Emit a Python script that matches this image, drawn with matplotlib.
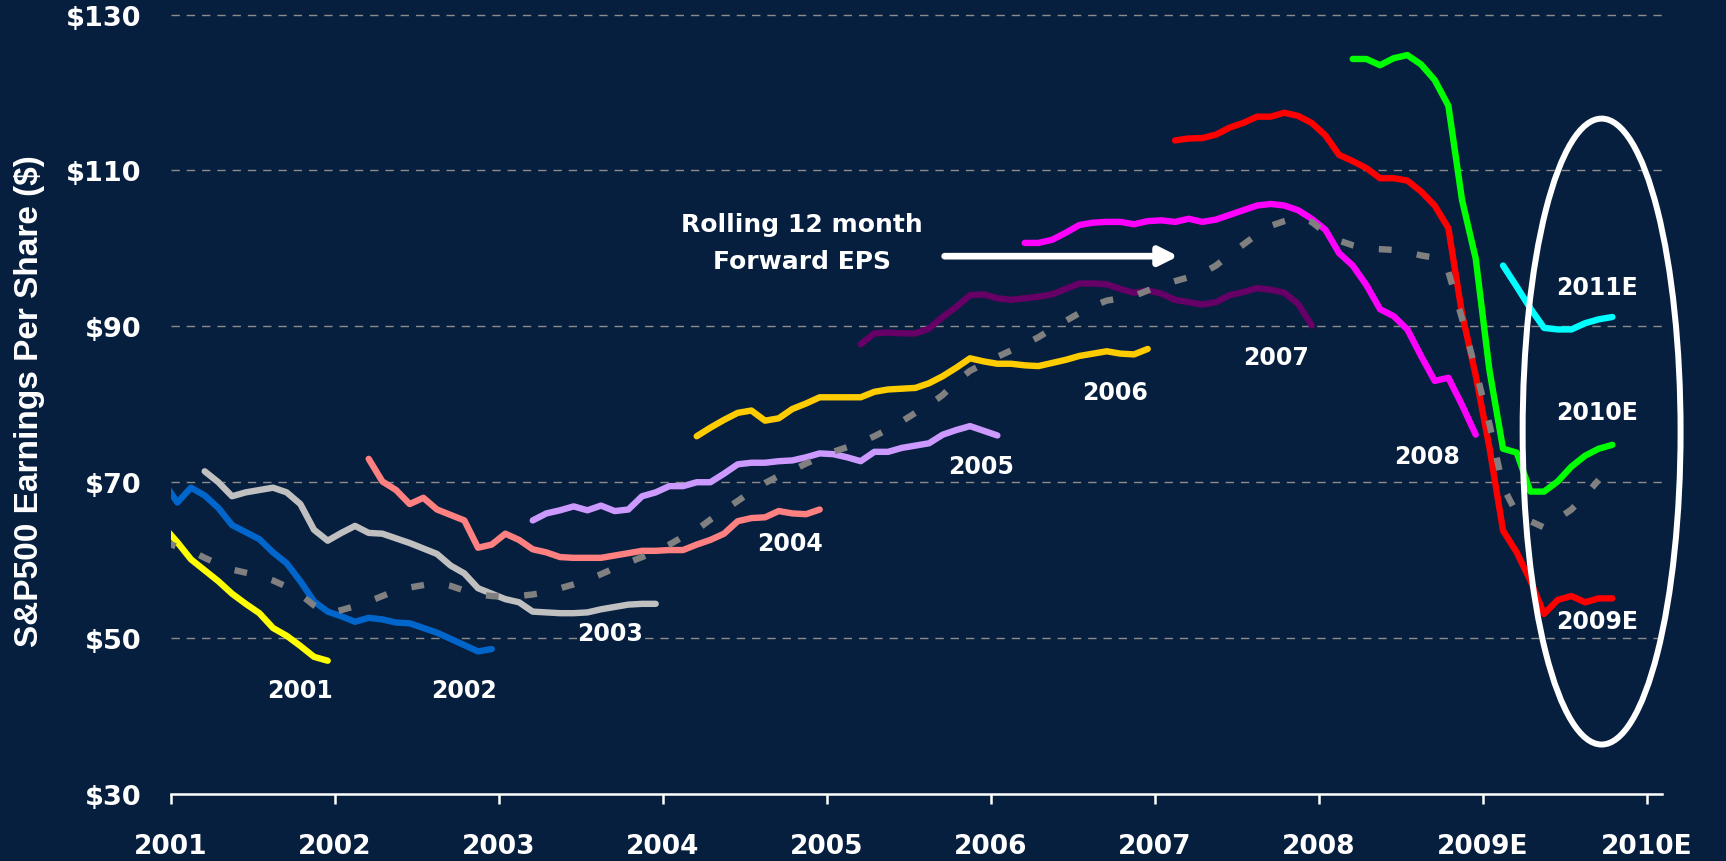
import numpy as np
import matplotlib
matplotlib.use("Agg")
import matplotlib.pyplot as plt
from matplotlib.patches import Ellipse

# monthly consensus EPS estimates, month index counted from Jan 2001 (0 = Jan 2001)
eps_2001_start = -1
eps_2001 = [64.3, 62.3, 60.1, 58.7, 57.3, 55.7, 54.4, 53.2, 51.3, 50.3, 49.0, 47.6, 47.1]

eps_2002_start = -1
eps_2002 = [70.0, 67.4, 69.3, 68.3, 66.7, 64.5, 63.6, 62.7, 61.0, 59.6, 57.3, 54.7, 53.4,
            52.8, 52.1, 52.6, 52.4, 52.0, 51.9, 51.3, 50.7, 49.9, 49.1, 48.3, 48.6]

eps_2003_start = 2
eps_2003 = [71.4, 70.0, 68.2, 68.7, 69.0, 69.3, 68.7, 67.2, 63.9, 62.5,
            63.5, 64.4, 63.5, 63.4, 62.8, 62.2, 61.5, 60.8, 59.3, 58.3, 56.4, 55.7,
            55.0, 54.6, 53.4, 53.3, 53.2, 53.2, 53.3, 53.7, 54.0, 54.3, 54.4, 54.4]

eps_2004_start = 14
eps_2004 = [73.0, 70.1, 69.0, 67.2, 68.0, 66.5, 65.8, 65.1, 61.6, 62.0,
            63.4, 62.6, 61.4, 61.0, 60.4, 60.3, 60.3, 60.3, 60.6, 60.9, 61.2, 61.2,
            61.3, 61.3, 62.0, 62.6, 63.4, 65.0, 65.4, 65.5, 66.3, 66.0, 65.9, 66.5]

eps_2005_start = 26
eps_2005 = [65.1, 66.0, 66.4, 66.9, 66.4, 67.0, 66.3, 66.5, 68.2, 68.7,
            69.5, 69.5, 70.0, 70.0, 71.1, 72.3, 72.5, 72.5, 72.7, 72.8, 73.2, 73.7,
            73.6, 73.2, 72.7, 73.9, 73.9, 74.4, 74.7, 75.0, 76.1, 76.7, 77.2, 76.6,
            76.0]

eps_2006_start = 38
eps_2006 = [75.9, 77.0, 78.0, 78.9, 79.2, 77.9, 78.2, 79.4, 80.1, 80.9,
            80.9, 80.9, 80.9, 81.6, 81.9, 82.0, 82.1, 82.7, 83.6, 84.7, 85.9, 85.5,
            85.2, 85.2, 85.0, 84.9, 85.3, 85.7, 86.2, 86.5, 86.8, 86.5, 86.4, 87.1]

eps_2007_start = 50
eps_2007 = [87.7, 89.1, 89.2, 89.1, 89.1, 89.7, 91.2, 92.5, 94.0, 94.1,
            93.6, 93.4, 93.6, 93.8, 94.1, 94.8, 95.5, 95.5, 95.4, 94.8, 94.3, 94.6,
            94.2, 93.4, 93.1, 92.8, 93.1, 94.0, 94.4, 94.9, 94.7, 94.3, 92.9, 90.1]

eps_2008_start = 62
eps_2008 = [100.7, 100.7, 101.1, 102.0, 103.0, 103.3, 103.4, 103.4, 103.1, 103.5,
            103.6, 103.4, 103.8, 103.4, 103.7, 104.3, 104.9, 105.5, 105.7, 105.5, 104.9, 103.8,
            102.4, 99.4, 97.8, 95.3, 92.2, 91.3, 89.6, 86.2, 83.0, 83.4, 79.9, 76.1]

eps_2009_start = 73
eps_2009 = [113.85, 114.1, 114.15, 114.6, 115.5, 116.1, 116.9, 116.9, 117.4, 117.0, 116.1,
            114.5, 112.0, 111.2, 110.3, 109.0, 109.0, 108.7, 107.3, 105.5, 102.6, 91.6, 83.7,
            74.5, 63.8, 61.0, 57.4, 53.1, 54.9, 55.4, 54.6, 55.1, 55.1]

eps_2010_start = 86
eps_2010 = [124.3, 124.3, 123.5, 124.4, 124.8, 123.6, 121.6, 118.3, 106.2, 98.7,
            84.4, 74.3, 73.8, 68.8, 68.8, 70.1, 72.0, 73.4, 74.3, 74.8]

eps_2011_start = 97
eps_2011 = [97.8, 95.1, 92.3, 89.8, 89.6, 89.6, 90.4, 90.9, 91.2]

# rolling 12 month forward EPS
fwd_start = -1
fwd_eps = [62.4, 61.7, 61.2, 60.3, 59.5, 58.8, 58.4, 58.0, 57.4, 56.6, 55.6, 54.2, 53.2,
           53.6, 54.1, 54.7, 55.4, 56.1, 56.5, 56.8, 57.1, 56.7, 56.1, 55.6, 55.4,
           55.3, 55.4, 55.6, 55.9, 56.4, 56.9, 57.5, 58.2, 59.0, 59.7, 60.4, 61.1,
           62.0, 63.0, 63.9, 65.2, 66.4, 67.6, 68.8, 69.9, 70.8, 71.5, 72.4, 73.2,
           73.9, 74.5, 75.1, 75.9, 76.8, 77.8, 78.9, 79.9, 81.2, 82.9, 84.3, 85.2,
           86.1, 86.9, 87.7, 88.6, 89.7, 90.7, 91.7, 92.6, 93.3, 93.6, 93.9, 94.6,
           95.3, 95.8, 96.3, 96.8, 97.8, 99.2, 100.5, 101.8, 102.9, 103.5, 104.0, 103.4,
           102.0, 101.0, 100.4, 100.0, 99.9, 99.8, 99.5, 99.1, 98.8, 97.0, 91.0, 84.4,
           77.5, 69.4, 66.0, 65.0, 64.2, 65.3, 66.5, 68.3, 70.3]

series = [
    (eps_2001_start, eps_2001, '#FFFF00'),
    (eps_2002_start, eps_2002, '#0066CC'),
    (eps_2003_start, eps_2003, '#C0C0C0'),
    (eps_2004_start, eps_2004, '#FF8080'),
    (eps_2005_start, eps_2005, '#CC99FF'),
    (eps_2006_start, eps_2006, '#FFCC00'),
    (eps_2007_start, eps_2007, '#660066'),
    (eps_2008_start, eps_2008, '#FF00FF'),
    (eps_2009_start, eps_2009, '#FF0000'),
    (eps_2010_start, eps_2010, '#00FF00'),
    (eps_2011_start, eps_2011, '#00FFFF'),
]

series_labels = ['2001', '2002', '2003', '2004', '2005', '2006', '2007', '2008']
label_pos = [(2001.79, 43.4), (2002.79, 43.4), (2003.68, 50.7), (2004.78, 62.2),
             (2005.94, 72.1), (2006.76, 81.6), (2007.74, 86.1), (2008.66, 73.4)]
est_labels = ['2011E', '2010E', '2009E']
est_pos = [(2009.70, 95.0), (2009.70, 79.0), (2009.70, 52.2)]

tick_years = [2001, 2002, 2003, 2004, 2005, 2006, 2007, 2008, 2009, 2010]
tick_labels = ['2001', '2002', '2003', '2004', '2005', '2006', '2007', '2008', '2009E', '2010E']
y_ticks = [30, 50, 70, 90, 110, 130]

BG = '#071F3F'


def month_x(start, n):
    # points sit in the middle of each month
    return 2001 + (start + np.arange(n) + 0.5) / 12.0


def plot_chart():
    fig = plt.figure(figsize=(17.26, 8.62), dpi=100, facecolor=BG)
    ax = fig.add_axes([0.0988, 0.0777, 0.8641, 0.9133])
    ax.set_facecolor(BG)

    for start, vals, color in series:
        ax.plot(month_x(start, len(vals)), vals, color=color, lw=4.6,
                solid_capstyle='round', solid_joinstyle='round', zorder=3)

    ax.plot(month_x(fwd_start, len(fwd_eps)), fwd_eps, color='#808080', lw=4.6,
            dashes=(2.0, 4.0), dash_capstyle='butt', zorder=4)

    ax.set_xlim(2001, 2010.094)
    ax.set_ylim(30, 131)

    for y in y_ticks[1:]:
        ax.axhline(y, color='#8C8C8C', lw=1.0, dashes=(6, 5), zorder=1)

    for s in ['top', 'right', 'left']:
        ax.spines[s].set_visible(False)
    ax.spines['bottom'].set_color('white')
    ax.spines['bottom'].set_linewidth(1.8)

    ax.set_xticks(tick_years)
    ax.set_xticklabels(tick_labels)
    ax.set_yticks(y_ticks)
    ax.set_yticklabels(['$%d' % v for v in y_ticks])
    ax.tick_params(axis='x', colors='white', length=7, width=1.8, pad=21, labelsize=19)
    ax.tick_params(axis='y', colors='white', length=0, pad=21, labelsize=19.5)
    for lab in ax.get_xticklabels() + ax.get_yticklabels():
        lab.set_fontweight('bold')
        lab.set_family('DejaVu Sans')

    ax.set_ylabel('S&P500 Earnings Per Share ($)', color='white', fontsize=24,
                  fontweight='bold', family=['Liberation Sans', 'DejaVu Sans'])
    ax.yaxis.set_label_coords(-0.0845, 0.5)

    for txt, (x, y) in zip(series_labels, label_pos):
        ax.text(x, y, txt, color='white', fontsize=17, fontweight='bold',
                ha='center', va='center', zorder=6)
    for txt, (x, y) in zip(est_labels, est_pos):
        ax.text(x, y, txt, color='white', fontsize=17, fontweight='bold',
                ha='center', va='center', zorder=6)

    ax.text(2004.85, 103.1, 'Rolling 12 month', color='white', fontsize=18,
            fontweight='bold', ha='center', va='center')
    ax.text(2004.85, 98.4, 'Forward EPS', color='white', fontsize=18,
            fontweight='bold', ha='center', va='center')
    ax.annotate('', xy=(2007.145, 99.0), xytext=(2005.72, 99.0),
                arrowprops=dict(arrowstyle='-|>,head_length=1.1,head_width=0.55',
                                color='white', lw=4.8, shrinkA=0, shrinkB=0))

    ax.add_patch(Ellipse((2009.726, 76.5), 0.963, 80.3, fill=False, edgecolor='white',
                         lw=4.3, clip_on=False, zorder=5))

    fig.savefig('out.png', dpi=100, facecolor=BG)


if __name__ == "__main__":
    plot_chart()
